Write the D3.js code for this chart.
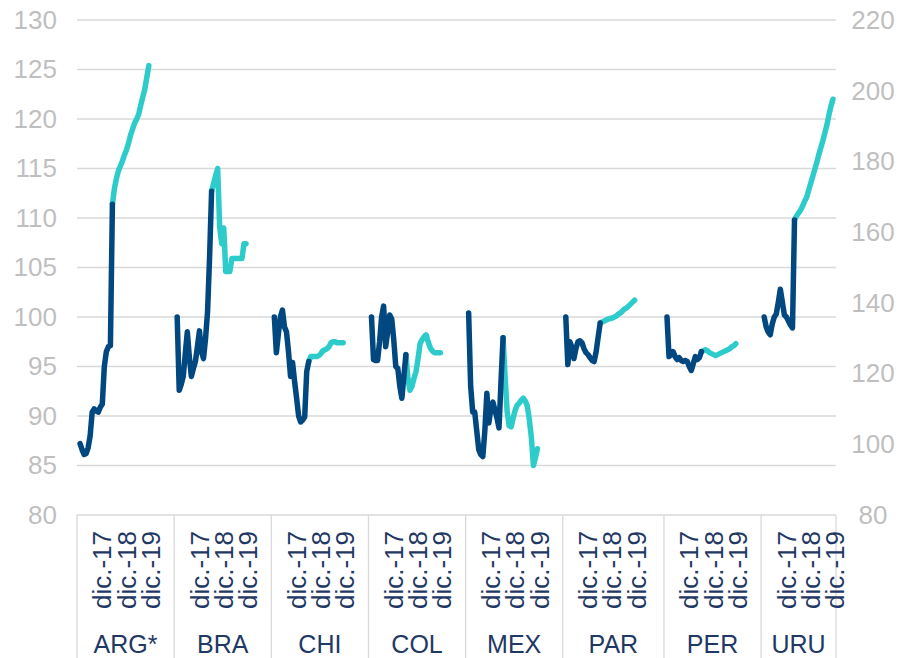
<!DOCTYPE html>
<html><head><meta charset="utf-8">
<script src="https://cdn.jsdelivr.net/npm/d3@7"></script>
<style>
body{margin:0;background:#fff}
svg{display:block}
text{font-family:"Liberation Sans",Arial,sans-serif}
</style>
</head><body>
<svg id="chart" width="904" height="658"></svg>
<script>
// ---------- DATA ----------
const countries = ["ARG*", "BRA", "CHI", "COL", "MEX", "PAR", "PER", "URU"];
// number of category slots (periods + blank gap) per country block
const groupSlots = [48, 48, 48, 48, 48, 50, 48, 37];
const periodLabels = ["dic.-17", "dic.-18", "dic.-19"];
const periodLabelIdx = [11, 23, 35];
const leftTicks = [80, 85, 90, 95, 100, 105, 110, 115, 120, 125, 130];
const rightTicks = [80, 100, 120, 140, 160, 180, 200, 220];
// countries plotted on the secondary (right) axis
const rightAxisCountries = ["ARG*"];
// index where the dark series ends and the light series starts
const splitIdx = [16, 17, 17, 17, 17, 17, 17, 15];

const ARG = [100.2, 98.5, 97.1, 97.4, 99.0, 102.4, 109.1, 110.0, 109.4, 109.1, 110.5, 111.4, 122.0, 126.2, 127.6, 127.9,
  167.9, 172.4, 175.2, 177.4, 178.8, 180.2, 181.9, 183.3, 185.3, 187.5, 189.2, 190.9, 192.0, 193.4, 195.9, 198.2, 200.4, 203.8, 207.1];
const BRA = [100.0, 92.6, 93.2, 94.0, 96.3, 98.5, 96.0, 94.0, 94.8, 95.5, 97.0, 98.6, 96.5, 95.8, 97.8, 100.5, 106.0, 112.7,
  113.5, 114.3, 115.0, 109.1, 107.4, 109.0, 104.6, 104.6, 104.6, 105.9, 105.9, 105.9, 105.9, 105.9, 105.9, 107.4, 107.4];
const CHI = [100.0, 96.4, 98.3, 100.0, 100.7, 99.0, 98.5, 96.5, 94.0, 95.4, 93.5, 91.8, 90.0, 89.4, 89.6, 89.9, 94.5, 95.5,
  96.0, 96.0, 96.0, 96.0, 96.1, 96.3, 96.6, 96.7, 96.8, 97.0, 97.4, 97.5, 97.5, 97.4, 97.4, 97.4, 97.4];
const COL = [100.0, 95.7, 95.6, 95.6, 97.5, 100.0, 101.1, 97.0, 98.5, 100.2, 99.8, 97.7, 95.0, 94.8, 93.0, 91.8, 94.0, 96.2,
  93.8, 92.6, 93.0, 93.8, 94.5, 95.8, 97.3, 97.7, 98.0, 98.2, 97.5, 96.9, 96.6, 96.4, 96.4, 96.4, 96.4];
const MEX = [100.4, 93.0, 90.4, 90.4, 88.5, 86.6, 86.1, 85.9, 88.5, 92.3, 89.3, 90.8, 91.4, 90.6, 89.8, 88.8, 93.5, 97.9,
  94.0, 90.5, 89.0, 88.9, 89.8, 90.6, 91.1, 91.3, 91.6, 91.8, 91.5, 91.0, 89.6, 87.8, 85.0, 85.8, 86.7];
const PAR = [100.0, 95.2, 97.5, 97.0, 95.8, 96.8, 97.5, 97.6, 97.4, 96.8, 96.4, 96.2, 95.9, 95.6, 95.5, 96.5, 98.0, 99.4,
  99.5, 99.6, 99.7, 99.8, 99.85, 99.9, 100.0, 100.1, 100.3, 100.4, 100.6, 100.8, 100.9, 101.1, 101.3, 101.5, 101.7];
const PER = [100.0, 96.0, 96.2, 96.5, 96.0, 95.7, 95.9, 95.6, 95.5, 95.6, 95.5, 95.0, 94.6, 95.3, 96.0, 95.7, 95.9, 96.5,
  96.6, 96.7, 96.6, 96.4, 96.3, 96.2, 96.1, 96.2, 96.3, 96.4, 96.5, 96.6, 96.7, 96.8, 97.0, 97.1, 97.3];
const URU = [100.0, 99.0, 98.5, 98.2, 99.3, 100.0, 100.3, 101.5, 102.8, 101.5, 100.2, 100.0, 99.6, 99.2, 98.9, 109.8,
  110.2, 110.5, 110.8, 111.2, 111.7, 112.1, 112.8, 113.5, 114.2, 114.9, 115.6, 116.4, 117.1, 117.8, 118.6, 119.4, 120.4, 121.3, 122.0];
const seriesValues = [ARG, BRA, CHI, COL, MEX, PAR, PER, URU];

// ---------- CHART ----------
const svg = d3.select("#chart");
const M = {left: 77, right: 836, top: 20, bottom: 515};
const darkColor = "#00487f";
const lightColor = "#2ecbcb";
const labelColor = "#1f3864";
const axisColor = "#bfbfbf";
const gridColor = "#d9d9d9";

const totalSlots = d3.sum(groupSlots);
const x = d3.scaleLinear().domain([0, totalSlots]).range([M.left, M.right]);
const groupStart = groupSlots.map((d, i) => d3.sum(groupSlots.slice(0, i)));
const yL = d3.scaleLinear().domain([80, 130]).range([M.bottom, M.top]);
const yR = d3.scaleLinear().domain([80, 220]).range([M.bottom, M.top]);

// gridlines
svg.append("g").selectAll("line").data(leftTicks).join("line")
  .attr("x1", M.left).attr("x2", M.right)
  .attr("y1", d => yL(d)).attr("y2", d => yL(d))
  .attr("stroke", gridColor).attr("stroke-width", 1.3);

// left axis
const gL = svg.append("g").attr("transform", `translate(${M.left},0)`)
  .call(d3.axisLeft(yL).tickValues(leftTicks).tickSize(0).tickPadding(20));
gL.select(".domain").remove();
gL.selectAll("text").attr("fill", axisColor).style("font-size", "26px")
  .style("font-family", '"Liberation Sans",Arial,sans-serif');

// right axis
const gR = svg.append("g").attr("transform", `translate(${M.right},0)`)
  .call(d3.axisRight(yR).tickValues(rightTicks).tickSize(0).tickPadding(37));
gR.select(".domain").remove();
gR.selectAll("text").attr("fill", axisColor).attr("text-anchor", "middle").style("font-size", "26px")
  .style("font-family", '"Liberation Sans",Arial,sans-serif');

// category axis separators
const sepX = groupStart.map(s => x(s)).concat([x(totalSlots)]);
svg.append("g").selectAll("line").data(sepX).join("line")
  .attr("x1", d => d).attr("x2", d => d)
  .attr("y1", M.bottom).attr("y2", 658)
  .attr("stroke", gridColor).attr("stroke-width", 1.3);

const px = (g, i) => x(groupStart[g] + i + 1.5);

// period labels (rotated)
countries.forEach((c, g) => {
  periodLabels.forEach((lab, k) => {
    svg.append("text")
      .attr("transform", `translate(${px(g, periodLabelIdx[k])},531) rotate(-90)`)
      .attr("text-anchor", "end").attr("dy", "0.35em")
      .attr("fill", labelColor).style("font-size", "26px")
      .text(lab);
  });
  svg.append("text")
    .attr("x", (x(groupStart[g]) + x(groupStart[g] + groupSlots[g])) / 2)
    .attr("y", 653)
    .attr("text-anchor", "middle")
    .attr("fill", labelColor).style("font-size", "25px")
    .text(c);
});

// lines
countries.forEach((c, g) => {
  const vals = seriesValues[g];
  const y = rightAxisCountries.includes(c) ? yR : yL;
  const line = d3.line().x(d => px(g, d.i)).y(d => y(d.v));
  const pts = vals.map((v, i) => ({i, v}));
  const s = splitIdx[g];
  svg.append("path").datum(pts.slice(s))
    .attr("d", line).attr("fill", "none").attr("stroke", lightColor)
    .attr("stroke-width", 5.5).attr("stroke-linejoin", "round").attr("stroke-linecap", "round");
  svg.append("path").datum(pts.slice(0, s + 1))
    .attr("d", line).attr("fill", "none").attr("stroke", darkColor)
    .attr("stroke-width", 5.5).attr("stroke-linejoin", "round").attr("stroke-linecap", "round");
});
</script>
</body></html>
